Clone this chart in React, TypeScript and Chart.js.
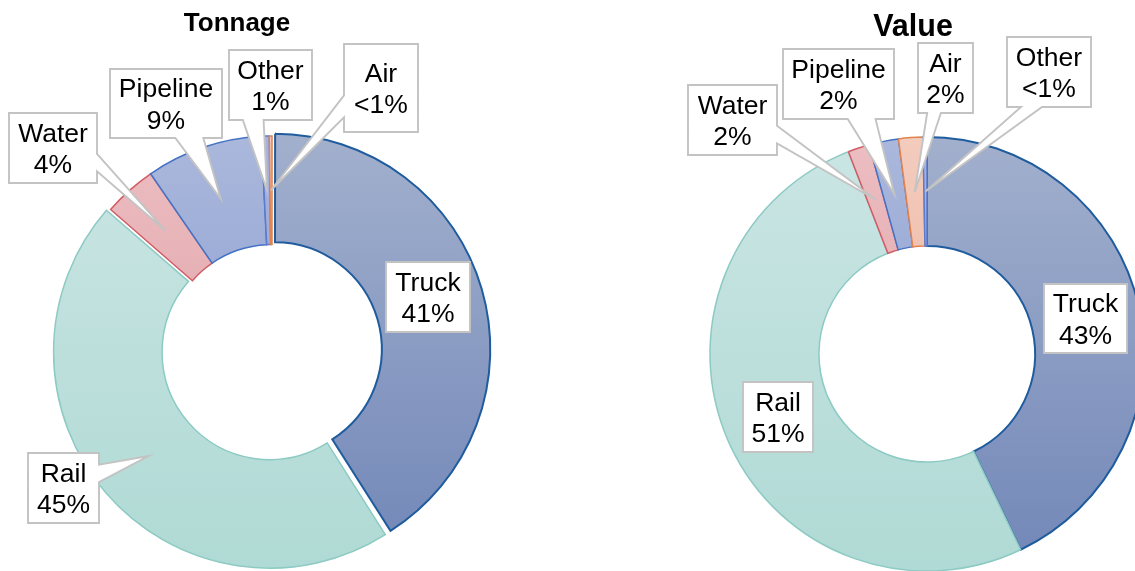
import React, { useEffect, useRef } from 'react';
import { Chart, registerables } from 'chart.js';

Chart.register(...registerables);

// ---------- DATA ----------
const tonnageCategories = ['Truck', 'Rail', 'Water', 'Pipeline', 'Other', 'Air'];
const tonnageValues = [41.0, 45.4, 4.0, 8.8, 0.6, 0.2];
const tonnagePctLabels = ['41%', '45%', '4%', '9%', '1%', '<1%'];

const valueCategories = ['Truck', 'Rail', 'Water', 'Pipeline', 'Air', 'Other'];
const valueValues = [42.9, 51.2, 1.6, 2.2, 1.8, 0.3];
const valuePctLabels = ['43%', '51%', '2%', '2%', '2%', '<1%'];

// ---------- STYLES ----------
type Sty = { top: string; bottom: string; border: string; bw: number };
const CAT_STYLE: Record<string, Sty> = {
  Truck: { top: '#a2b0cd', bottom: '#7287b8', border: '#1f5c9e', bw: 2 },
  Rail: { top: '#cae5e4', bottom: '#b0dad5', border: '#8ccac3', bw: 1.5 },
  Water: { top: '#ecbec2', bottom: '#dc979d', border: '#d05c64', bw: 1.5 },
  Pipeline: { top: '#abb8dc', bottom: '#7d93cc', border: '#4472c4', bw: 1.5 },
  Air: { top: '#f3ccbe', bottom: '#e9a68e', border: '#e0834f', bw: 1.5 },
  Other: { top: '#a8b3dc', bottom: '#8a9bd0', border: '#5b7bcc', bw: 1.5 },
};

const FONT = '"Liberation Sans", Arial, sans-serif';

type Box = { x: number; y: number; w: number; h: number };

// label boxes in page coordinates (layout only)
const tonnageBoxes: Box[] = [
  { x: 386, y: 262, w: 84, h: 70 },
  { x: 28, y: 453, w: 71, h: 70 },
  { x: 9, y: 113, w: 88, h: 70 },
  { x: 110, y: 69, w: 112, h: 69 },
  { x: 229, y: 50, w: 83, h: 70 },
  { x: 344, y: 44, w: 74, h: 88 },
];
const valueBoxes: Box[] = [
  { x: 1044, y: 284, w: 83, h: 69 },
  { x: 743, y: 382, w: 70, h: 70 },
  { x: 688, y: 85, w: 89, h: 70 },
  { x: 783, y: 49, w: 111, h: 70 },
  { x: 918, y: 43, w: 55, h: 70 },
  { x: 1007, y: 37, w: 84, h: 70 },
];

type Cfg = {
  title: string;
  titleX: number;
  titleBase: number;
  titleSize: number;
  cats: string[];
  values: number[];
  pcts: string[];
  boxes: Box[];
  left: number;
  top: number;
  width: number;
  height: number;
  radius: number;
  cutout: string;
  offsets: number[];
};

function calloutPath(ctx: CanvasRenderingContext2D, b: Box, tx: number, ty: number) {
  const { x, y, w, h } = b;
  const inside = tx >= x && tx <= x + w && ty >= y && ty <= y + h;
  ctx.beginPath();
  if (inside) {
    ctx.rect(x, y, w, h);
    return;
  }
  const cx = x + w / 2;
  const cy = y + h / 2;
  const dxPos = tx - cx;
  const dyPos = ty - cy;
  const dx = (dxPos * h) / w;
  let edge: 'top' | 'bottom' | 'left' | 'right';
  let a = 0;
  let c = 0;
  if (Math.abs(dyPos) >= Math.abs(dx)) {
    edge = dyPos < 0 ? 'top' : 'bottom';
    a = x + (w * (dxPos > 0 ? 7 : 2)) / 12;
    c = x + (w * (dxPos > 0 ? 10 : 5)) / 12;
  } else {
    edge = dxPos < 0 ? 'left' : 'right';
    a = y + (h * (dyPos > 0 ? 7 : 2)) / 12;
    c = y + (h * (dyPos > 0 ? 10 : 5)) / 12;
  }
  ctx.moveTo(x, y);
  if (edge === 'top') {
    ctx.lineTo(a, y);
    ctx.lineTo(tx, ty);
    ctx.lineTo(c, y);
  }
  ctx.lineTo(x + w, y);
  if (edge === 'right') {
    ctx.lineTo(x + w, a);
    ctx.lineTo(tx, ty);
    ctx.lineTo(x + w, c);
  }
  ctx.lineTo(x + w, y + h);
  if (edge === 'bottom') {
    ctx.lineTo(c, y + h);
    ctx.lineTo(tx, ty);
    ctx.lineTo(a, y + h);
  }
  ctx.lineTo(x, y + h);
  if (edge === 'left') {
    ctx.lineTo(x, c);
    ctx.lineTo(tx, ty);
    ctx.lineTo(x, a);
  }
  ctx.closePath();
}

function DonutChart({ cfg }: { cfg: Cfg }) {
  const ref = useRef<HTMLCanvasElement | null>(null);

  useEffect(() => {
    if (!ref.current) return;
    const grad = (chart: any, top: string, bottom: string) => {
      const area = chart.chartArea;
      if (!area) return top;
      const cy = (area.top + area.bottom) / 2;
      const g = chart.ctx.createLinearGradient(0, cy - cfg.radius, 0, cy + cfg.radius);
      g.addColorStop(0, top);
      g.addColorStop(1, bottom);
      return g;
    };

    const labelPlugin = {
      id: 'calloutLabels',
      afterDatasetsDraw(chart: any) {
        const ctx: CanvasRenderingContext2D = chart.ctx;
        const meta = chart.getDatasetMeta(0);
        ctx.save();
        // title
        ctx.fillStyle = '#000';
        ctx.font = `bold ${cfg.titleSize}px ${FONT}`;
        ctx.textAlign = 'center';
        ctx.textBaseline = 'alphabetic';
        ctx.fillText(cfg.title, cfg.titleX - cfg.left, cfg.titleBase - cfg.top);

        meta.data.forEach((arc: any, i: number) => {
          const p = arc.getProps(['x', 'y', 'startAngle', 'endAngle', 'innerRadius', 'outerRadius'], true);
          const mid = (p.startAngle + p.endAngle) / 2;
          const off = (cfg.offsets[i] || 0) / 4;
          const r = (p.innerRadius + p.outerRadius) / 2 + off;
          const tx = p.x + Math.cos(mid) * r;
          const ty = p.y + Math.sin(mid) * r;
          const bp = cfg.boxes[i];
          const b = { x: bp.x - cfg.left, y: bp.y - cfg.top, w: bp.w, h: bp.h };
          calloutPath(ctx, b, tx, ty);
          ctx.fillStyle = '#ffffff';
          ctx.fill();
          ctx.lineWidth = 1.9;
          ctx.strokeStyle = '#c3c3c3';
          ctx.lineJoin = 'miter';
          ctx.stroke();
          ctx.fillStyle = '#000';
          ctx.font = `26.5px ${FONT}`;
          ctx.textAlign = 'center';
          ctx.textBaseline = 'alphabetic';
          const lines = [chart.data.labels[i], cfg.pcts[i]];
          const bcx = b.x + b.w / 2;
          const bcy = b.y + b.h / 2;
          lines.forEach((t: string, k: number) => {
            ctx.fillText(t, bcx, bcy + (k - 0.5) * 31.5 + 9.5);
          });
        });
        ctx.restore();
      },
    };

    const chart = new Chart(ref.current, {
      type: 'doughnut',
      data: {
        labels: cfg.cats,
        datasets: [
          {
            data: cfg.values,
            backgroundColor: (c: any) => {
              const s = CAT_STYLE[cfg.cats[c.dataIndex]];
              return grad(c.chart, s.top, s.bottom);
            },
            borderColor: cfg.cats.map((k) => CAT_STYLE[k].border),
            borderWidth: cfg.cats.map((k) => CAT_STYLE[k].bw),
            offset: cfg.offsets,
            hoverOffset: 0,
            borderJoinStyle: 'miter',
          } as any,
        ],
      },
      options: {
        responsive: false,
        maintainAspectRatio: false,
        animation: false,
        events: [],
        radius: cfg.radius,
        cutout: cfg.cutout,
        layout: { padding: 0 },
        plugins: {
          legend: { display: false },
          tooltip: { enabled: false },
          title: { display: false },
        },
      } as any,
      plugins: [labelPlugin],
    });
    return () => chart.destroy();
  }, [cfg]);

  return (
    <canvas
      ref={ref}
      width={cfg.width}
      height={cfg.height}
      style={{ position: 'absolute', left: cfg.left, top: cfg.top, width: cfg.width, height: cfg.height }}
    />
  );
}

const tonnageCfg: Cfg = {
  title: 'Tonnage',
  titleX: 237,
  titleBase: 31,
  titleSize: 26,
  cats: tonnageCategories,
  values: tonnageValues,
  pcts: tonnagePctLabels,
  boxes: tonnageBoxes,
  left: 0,
  top: 0,
  width: 544,
  height: 700,
  radius: 214,
  cutout: '49.3%',
  offsets: [12, 12, 0, 0, 0, 0],
};

const valueCfg: Cfg = {
  title: 'Value',
  titleX: 913,
  titleBase: 36,
  titleSize: 30.5,
  cats: valueCategories,
  values: valueValues,
  pcts: valuePctLabels,
  boxes: valueBoxes,
  left: 677,
  top: 0,
  width: 500,
  height: 708,
  radius: 217,
  cutout: '49.8%',
  offsets: [0, 0, 0, 0, 0, 0],
};

export default function App() {
  return (
    <div
      style={{
        position: 'fixed',
        left: 0,
        top: 0,
        width: 1135,
        height: 571,
        overflow: 'hidden',
        background: '#ffffff',
      }}
    >
      <DonutChart cfg={tonnageCfg} />
      <DonutChart cfg={valueCfg} />
    </div>
  );
}
